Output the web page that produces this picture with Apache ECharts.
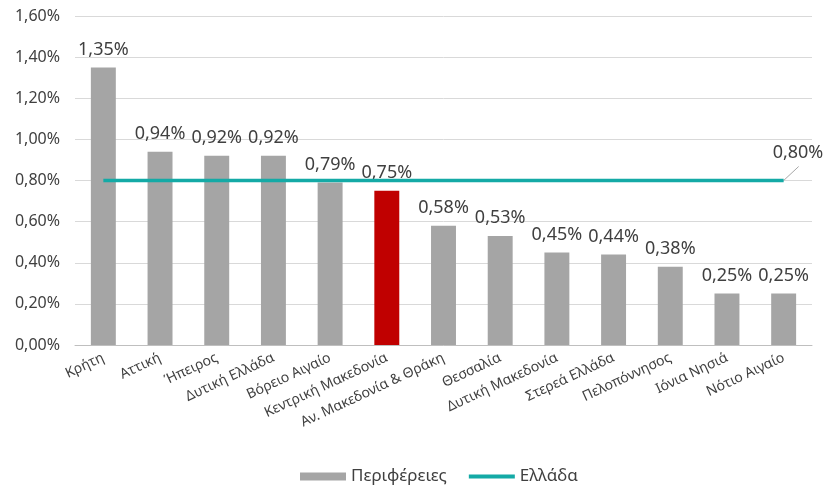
<!DOCTYPE html>
<html>
<head>
<meta charset="utf-8">
<script src="https://cdn.jsdelivr.net/npm/echarts@6/dist/echarts.min.js"></script>
<style>
  html, body { margin: 0; padding: 0; background: #fff; }
  #chart { width: 827px; height: 491px; }
</style>
</head>
<body>
<div id="chart"></div>
<script>
const categories = ["Κρήτη", "Αττική", "Ήπειρος", "Δυτική Ελλάδα", "Βόρειο Αιγαίο", "Κεντρική Μακεδονία",
  "Αν. Μακεδονία & Θράκη", "Θεσσαλία", "Δυτική Μακεδονία", "Στερεά Ελλάδα", "Πελοπόννησος", "Ιόνια Νησιά", "Νότιο Αιγαίο"];
const regionValues = [1.35, 0.94, 0.92, 0.92, 0.79, 0.75, 0.58, 0.53, 0.45, 0.44, 0.38, 0.25, 0.25];
const greeceValues = [0.80, 0.80, 0.80, 0.80, 0.80, 0.80, 0.80, 0.80, 0.80, 0.80, 0.80, 0.80, 0.80];
const highlighted = "Κεντρική Μακεδονία";

const FONT = "Noto Sans";
const TEXT = "#404040";
const pct = v => v.toFixed(2).replace(".", ",") + "%";

const chart = echarts.init(document.getElementById("chart"));
chart.setOption({
  animation: false,
  textStyle: { fontFamily: FONT },
  grid: { left: 75, right: 15, top: 16, bottom: 146, containLabel: false },
  legend: {
    left: 300,
    top: 468,
    padding: 0,
    itemWidth: 46,
    itemHeight: 8,
    itemGap: 20,
    textStyle: { fontFamily: FONT, fontSize: 17, color: TEXT },
    data: [
      { name: "Περιφέρειες", icon: "rect" },
      { name: "Ελλάδα", itemStyle: { opacity: 0 }, lineStyle: { width: 4 } }
    ]
  },
  xAxis: {
    type: "category",
    data: categories,
    axisLine: { lineStyle: { color: "#bfbfbf" } },
    axisTick: { show: false },
    axisLabel: { rotate: 25, interval: 0, fontSize: 14, color: TEXT, fontFamily: FONT, margin: 12 }
  },
  yAxis: {
    type: "value",
    min: 0,
    max: 1.6,
    interval: 0.2,
    axisLine: { show: false },
    axisTick: { show: false },
    splitLine: { lineStyle: { color: "#d9d9d9" } },
    axisLabel: { formatter: v => pct(v), fontSize: 16, color: TEXT, fontFamily: FONT, margin: 15 }
  },
  series: [
    {
      name: "Περιφέρειες",
      type: "bar",
      barWidth: "44%",
      itemStyle: { color: "#a5a5a5" },
      data: regionValues.map((v, i) => categories[i] === highlighted
        ? { value: v, itemStyle: { color: "#c00000" } }
        : v),
      label: {
        show: true,
        position: "top",
        distance: 9,
        fontSize: 18,
        color: TEXT,
        fontFamily: FONT,
        formatter: p => pct(p.value)
      }
    },
    {
      name: "Ελλάδα",
      type: "line",
      symbol: "none",
      lineStyle: { color: "#14aaa6", width: 3.5 },
      itemStyle: { color: "#14aaa6" },
      data: greeceValues,
      endLabel: {
        show: true,
        distance: 0,
        align: "left",
        verticalAlign: "middle",
        offset: [-11, -28],
        fontSize: 18,
        color: TEXT,
        fontFamily: FONT,
        formatter: p => pct(p.value)
      },
      z: 3
    }
  ]
});

// small leader line from the last point of the line to its label, like the original
const last = greeceValues.length - 1;
const end = chart.convertToPixel({ seriesIndex: 1 }, [last, greeceValues[last]]);
chart.setOption({
  graphic: [{
    type: "line",
    shape: { x1: end[0], y1: end[1], x2: end[0] + 15, y2: end[1] - 14 },
    style: { stroke: "#a6a6a6", lineWidth: 1 },
    z: 2
  }]
});
</script>
</body>
</html>
